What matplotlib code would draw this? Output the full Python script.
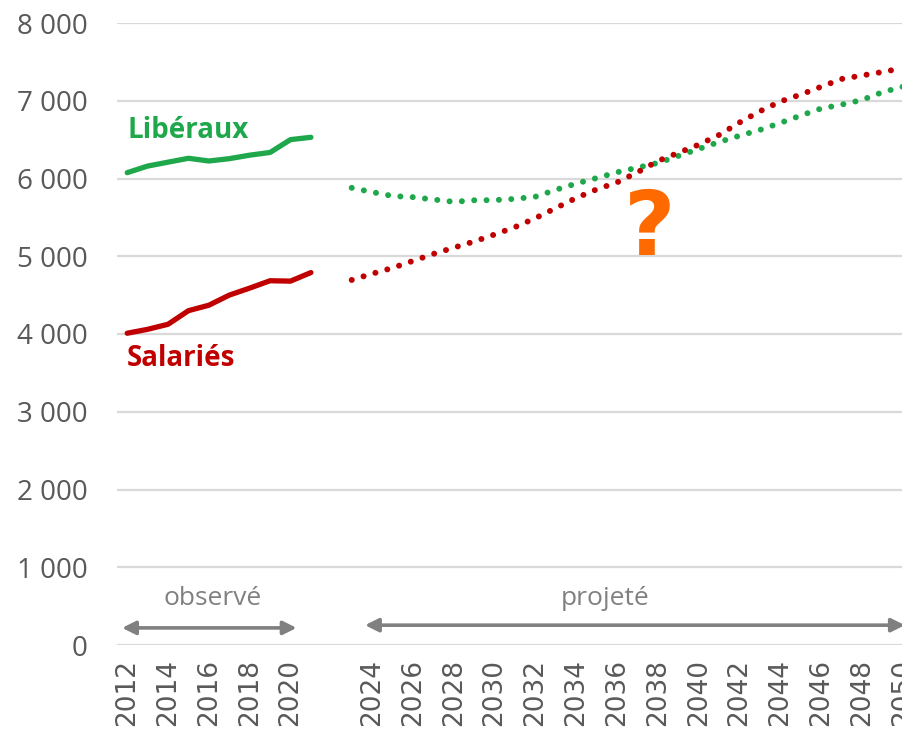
import matplotlib.pyplot as plt

# --- Data ---
years_obs = [2012, 2013, 2014, 2015, 2016, 2017, 2018, 2019, 2020, 2021]
liberaux_obs = [6075, 6160, 6210, 6260, 6225, 6255, 6300, 6335, 6500, 6530]
salaries_obs = [4010, 4060, 4125, 4300, 4370, 4500, 4590, 4685, 4680, 4790]

years_proj = [2023, 2024, 2025, 2026, 2027, 2028, 2029, 2030, 2031, 2032,
              2033, 2034, 2035, 2036, 2037, 2038, 2039, 2040, 2041, 2042,
              2043, 2044, 2045, 2046, 2047, 2048, 2049, 2050]
liberaux_proj = [5880, 5825, 5775, 5760, 5730, 5700, 5720, 5722, 5738, 5766,
                 5855, 5935, 6006, 6080, 6140, 6200, 6290, 6380, 6470, 6550,
                 6625, 6715, 6810, 6900, 6950, 7010, 7110, 7180]
salaries_proj = [4695, 4775, 4850, 4940, 5030, 5110, 5190, 5280, 5375, 5490,
                 5620, 5750, 5860, 5950, 6080, 6225, 6330, 6435, 6560, 6720,
                 6865, 6990, 7080, 7180, 7280, 7325, 7370, 7420]

x_ticks = [2012, 2014, 2016, 2018, 2020, 2024, 2026, 2028, 2030, 2032, 2034,
           2036, 2038, 2040, 2042, 2044, 2046, 2048, 2050]
y_ticks = [0, 1000, 2000, 3000, 4000, 5000, 6000, 7000, 8000]
y_labels = ["0", "1 000", "2 000", "3 000", "4 000", "5 000", "6 000", "7 000", "8 000"]

GREEN = "#1FA84B"
RED = "#C00000"
ORANGE = "#FF6A00"
GREY = "#808080"
TXT = "#595959"

plt.rcParams["font.family"] = ["Open Sans", "DejaVu Sans"]

fig = plt.figure(figsize=(9.03, 7.31), dpi=100)
# plot area deliberately runs past the right edge (cropped like the original)
ax = fig.add_axes([117 / 903, 86 / 731, 796 / 903, 622 / 731])

ax.plot(years_obs, liberaux_obs, color=GREEN, lw=3.8, solid_capstyle="round",
        solid_joinstyle="round")
ax.plot(years_obs, salaries_obs, color=RED, lw=3.8, solid_capstyle="round",
        solid_joinstyle="round")

dots = (0, (0.01, 2.06))
ax.plot(years_proj, liberaux_proj, color=GREEN, lw=4.3, linestyle=dots,
        dash_capstyle="round")
ax.plot(years_proj, salaries_proj, color=RED, lw=4.3, linestyle=dots,
        dash_capstyle="round")

ax.set_xlim(2011.5, 2050.5)
ax.set_ylim(0, 8000)
ax.set_yticks(y_ticks)
ax.set_yticklabels(y_labels, fontsize=20, color=TXT)
ax.set_xticks(x_ticks)
ax.set_xticklabels([str(y) for y in x_ticks], rotation=90, fontsize=19,
                   color=TXT, family="DejaVu Sans")
ax.tick_params(axis="y", length=0, pad=21)
ax.tick_params(axis="x", length=0, pad=10)
ax.grid(axis="y", color="#D9D9D9", lw=1.6)
ax.set_axisbelow(True)
for s in ax.spines.values():
    s.set_visible(False)

# series labels
ax.text(2012, 6620, "Libéraux", color=GREEN, fontsize=20, fontweight="bold",
        ha="left", va="center")
ax.text(2012, 3680, "Salariés", color=RED, fontsize=20, fontweight="bold",
        ha="left", va="center")
ax.text(2037.6, 5330, "?", color=ORANGE, fontsize=64, fontweight="heavy",
        family="DejaVu Sans", ha="center", va="center")

# observed / projected markers
ax.text(2016.2, 600, "observé", color=GREY, fontsize=19, ha="center", va="center")
ax.text(2035.4, 600, "projeté", color=GREY, fontsize=19, ha="center", va="center")
arrow = dict(arrowstyle="<|-|>", color=GREY, lw=2.6, mutation_scale=20,
             shrinkA=0, shrinkB=0)
ax.annotate("", xy=(2011.75, 220), xytext=(2020.3, 220), arrowprops=arrow,
            annotation_clip=False)
ax.annotate("", xy=(2023.65, 255), xytext=(2050.1, 255), arrowprops=arrow,
            annotation_clip=False)

fig.savefig("out.png", dpi=100)
